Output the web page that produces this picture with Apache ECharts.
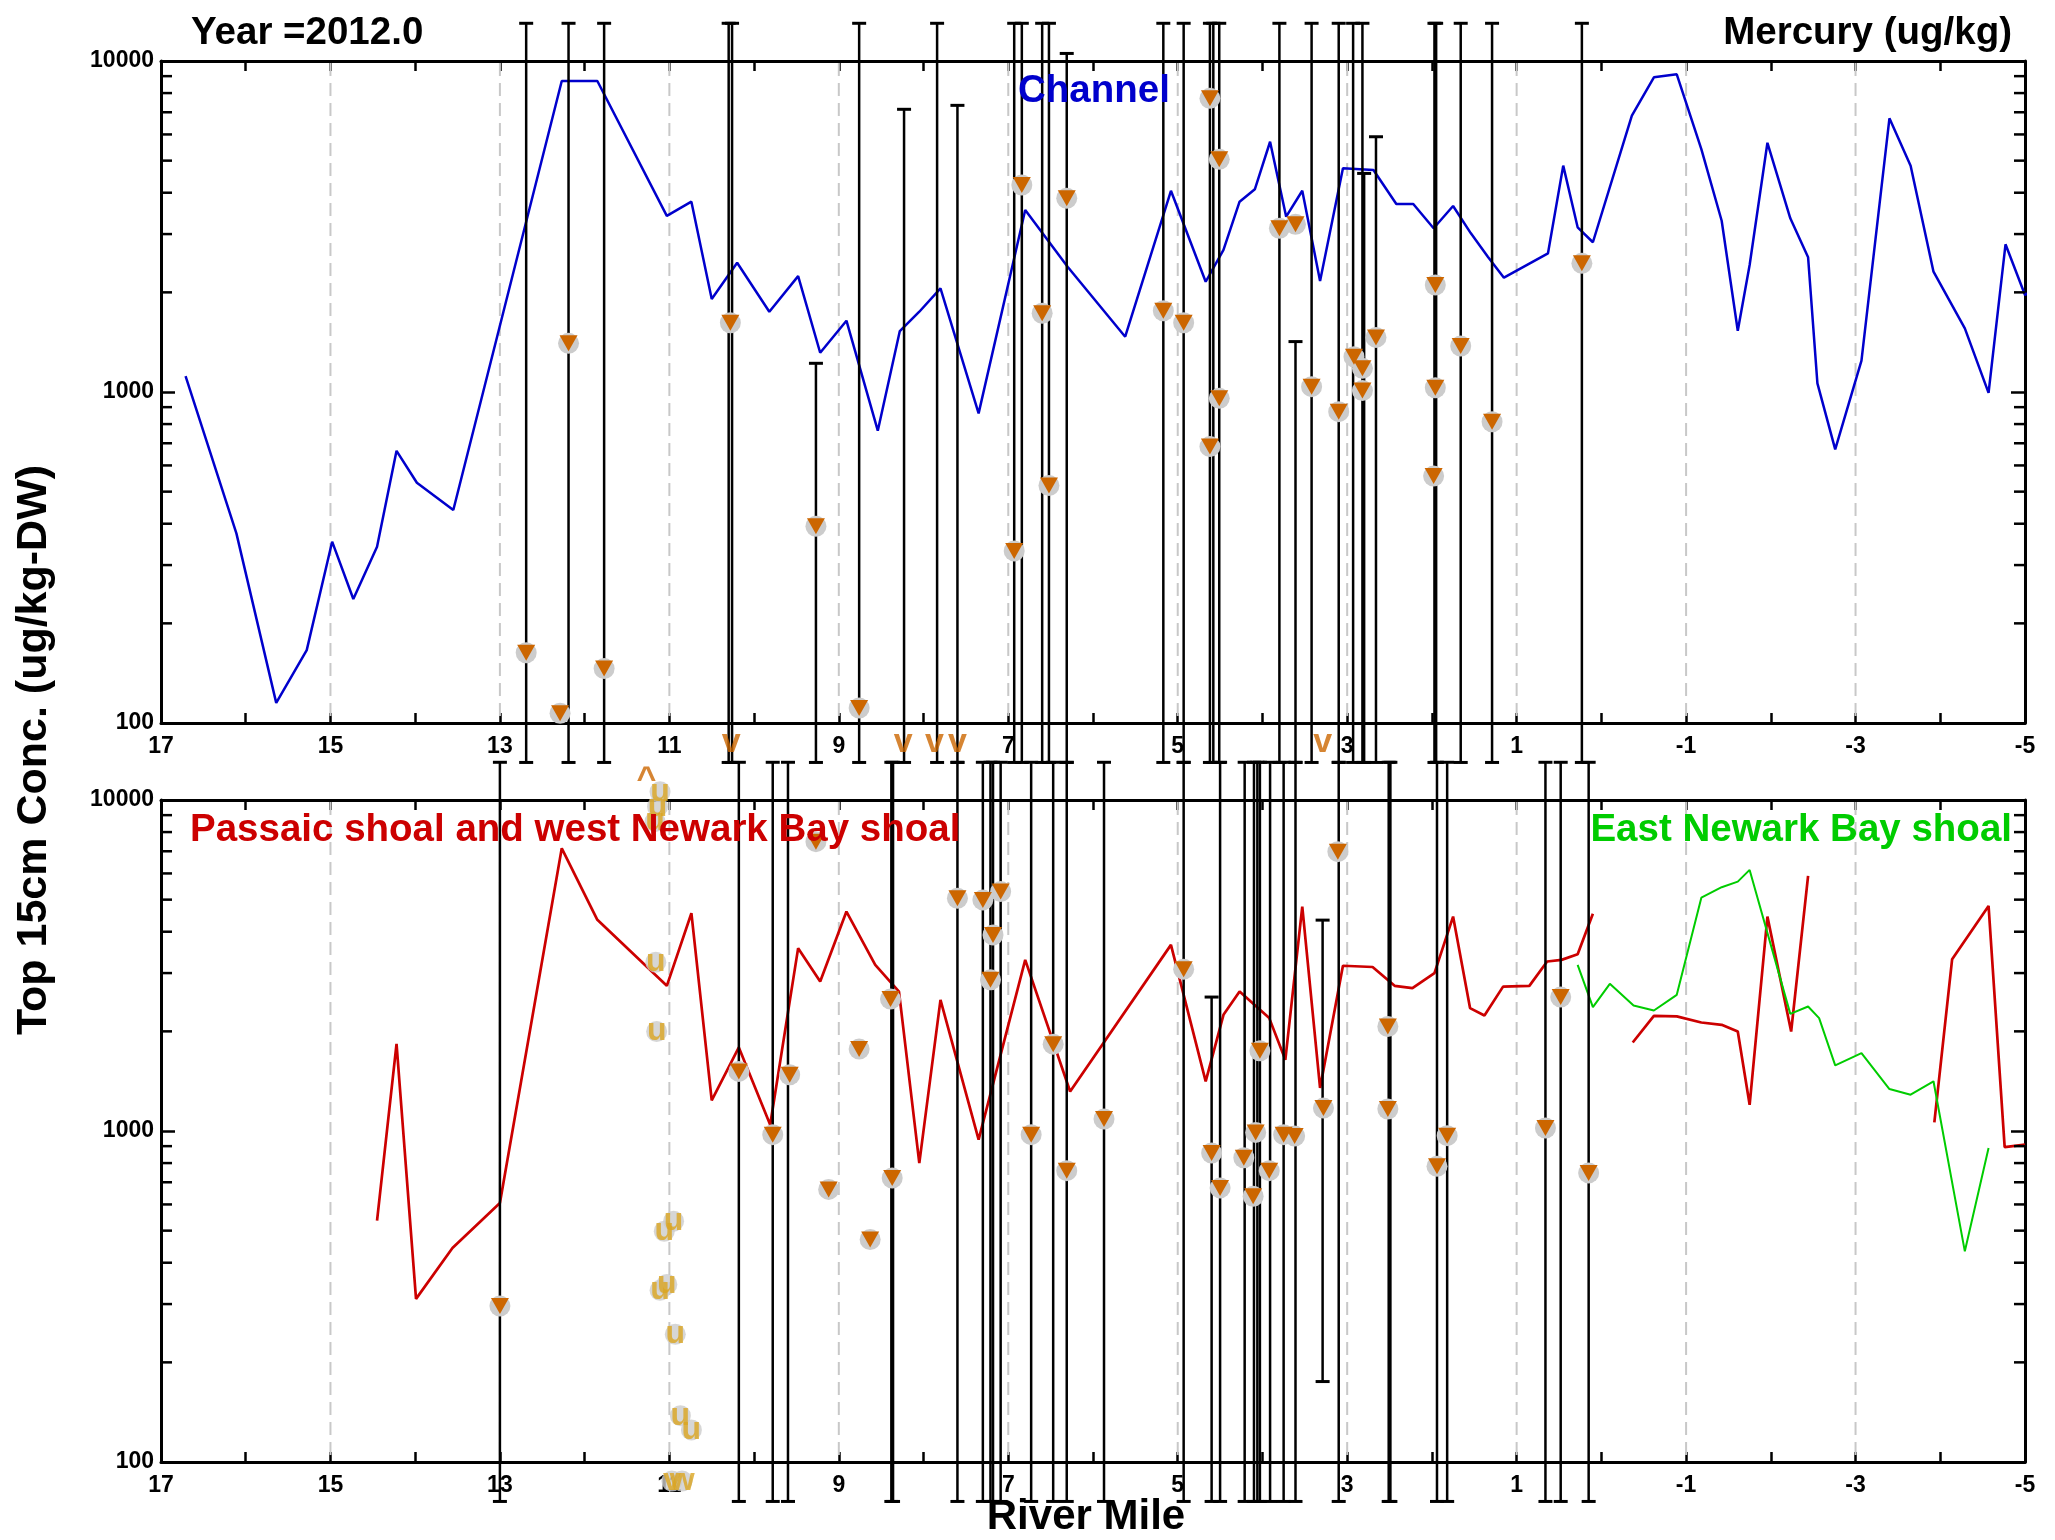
<!DOCTYPE html>
<html><head><meta charset="utf-8">
<script src="https://cdn.jsdelivr.net/npm/echarts@6/dist/echarts.min.js"></script>
<style>html,body{margin:0;padding:0;background:#fff}#c{width:2055px;height:1540px}</style>
</head><body><div id="c"></div>
<script>
// ---------- DATA ----------
const xLabelValues = [17,15,13,11,9,7,5,3,1,-1,-3,-5];
const gridRM = [15,13,11,9,7,5,3,1,-1,-3];
const yTickLabels = [100,1000,10000];
const minorDecades = [100,1000];
const minorMults = [2,3,4,5,6,7,8,9];

// Channel (top, blue)
const blueRM  = [16.71,16.11,15.64,15.28,14.98,14.73,14.45,14.22,13.98,13.55,12.27,11.85,11.03,10.74,10.50,10.20,9.82,9.48,9.22,8.91,8.54,8.28,8.05,7.80,7.35,6.80,6.30,5.62,5.08,4.67,4.46,4.27,4.09,3.91,3.72,3.53,3.32,3.05,2.69,2.42,2.22,1.98,1.75,1.54,1.34,1.15,0.63,0.45,0.28,0.10,-0.36,-0.62,-0.89,-1.18,-1.42,-1.61,-1.75,-1.96,-2.23,-2.44,-2.55,-2.76,-3.07,-3.40,-3.65,-3.92,-4.29,-4.57,-4.77,-5.00,-5.16];
const blueVal = [1117,374,115,166,353,237,341,664,532,440,8700,8700,3404,3758,1910,2458,1748,2239,1314,1642,764,1528,1748,2056,862,3548,2391,1469,4055,2153,2686,3758,4097,5702,3385,4055,2163,4742,4686,3698,3698,3124,3648,3016,2563,2215,2624,4829,3145,2834,6834,8928,9117,5420,3292,1531,2419,5661,3347,2552,1062,671,1243,6714,4829,2309,1557,994,2794,1963,2090];

// Passaic shoal and west Newark Bay shoal (bottom, red) - null = gap
const redRM  = [14.45,14.22,13.99,13.56,13.00,12.27,11.85,11.03,10.74,10.50,10.18,9.81,9.48,9.22,8.91,8.57,8.29,8.05,7.80,7.35,6.80,6.27,5.08,4.67,4.46,4.27,3.92,3.73,3.53,3.32,3.05,2.70,2.44,2.23,1.97,1.75,1.55,1.38,1.16,0.85,0.64,0.47,0.28,0.10,null,-0.37,-0.62,-0.89,-1.18,-1.42,-1.61,-1.75,-1.96,-2.24,-2.44,null,-3.93,-4.14,-4.57,-4.76,-5.00];
const redVal = [536,1834,311,443,606,7145,4345,2745,4550,1237,1788,1045,3568,2829,4603,3177,2638,800,2491,942,3289,1316,3650,1413,2244,2638,2193,1641,4766,1349,3157,3130,2745,2701,2999,4443,2351,2234,2730,2745,3251,3289,3421,4530,null,1851,2228,2220,2127,2093,1998,1200,4443,1998,5897,null,1062,3304,4786,894,909];

// East Newark Bay shoal (bottom, green)
const greenRM  = [0.28,0.10,-0.10,-0.38,-0.62,-0.89,-1.18,-1.42,-1.61,-1.75,-2.23,-2.44,-2.57,-2.76,-3.07,-3.40,-3.65,-3.92,-4.29,-4.57];
const greenVal = [3177,2367,2784,2393,2312,2578,5070,5452,5668,6149,2259,2377,2193,1579,1719,1339,1287,1413,433,889];

// Sample points (triangle markers)
const topMarkRM  = [12.69,12.29,12.19,11.77,10.28,9.27,8.76,6.84,6.93,6.60,6.52,6.31,5.17,4.93,4.62,4.51,4.62,4.51,3.80,3.61,3.42,3.10,2.92,2.82,2.82,2.66,1.96,1.96,1.98,1.66,1.29,0.23];
const topMarkVal = [163,107,1403,146,1619,393,111,4221,331,1729,522,3848,1760,1619,7713,5046,684,957,3124,3211,1038,872,1278,1179,1010,1462,2105,1030,557,1377,813,2448];
const botMarkRM  = [13.00,9.27,7.60,7.30,7.09,7.18,7.21,4.93,3.11,8.39,10.18,9.58,9.78,8.76,6.47,6.73,5.87,4.03,3.28,4.60,4.22,4.08,3.75,3.62,4.50,4.11,3.92,6.31,8.37,9.12,8.63,2.52,2.52,0.48,1.82,0.66,1.94,0.15];
const botMarkVal = [296,7482,5050,4990,5287,3913,2862,3083,6982,2503,1514,1479,975,1768,1830,975,1087,1747,1173,858,830,990,975,965,673,635,759,759,721,666,470,2069,1165,2539,968,1021,782,747];

// Range bars (low / high)
const topBarRM = [12.69,12.19,11.77,10.30,10.26,9.27,8.76,8.23,7.84,7.60,6.93,6.84,6.60,6.52,6.31,5.17,4.93,4.62,4.58,4.51,3.80,3.61,3.42,3.10,2.93,2.82,2.80,2.66,1.97,1.95,1.66,1.29,0.23];
const topBarLo = [76,76,76,76,76,76,76,76,76,76,76,76,76,76,76,76,76,76,76,76,76,76,76,76,76,76,76,76,76,76,76,76,76];
const topBarHi = [13000,13000,13000,13000,13000,1221,13000,7146,13000,7345,13000,13000,13000,13000,10540,13000,13000,13000,13000,13000,13000,1420,13000,13000,13000,13000,4575,5904,13000,13000,13000,13000,13000];
const botBarRM = [13.00,10.18,9.78,9.60,8.38,8.36,7.60,7.30,7.21,7.18,7.09,6.73,6.47,6.31,5.87,4.93,4.60,4.50,4.21,4.10,4.06,4.03,3.91,3.75,3.61,3.29,3.10,2.51,2.49,1.94,1.82,0.66,0.48,0.15];
const botBarLo = [76,76,76,76,76,76,76,76,76,76,76,76,76,76,76,76,76,76,76,76,76,76,76,76,76,175,76,76,76,76,76,76,76,76];
const botBarHi = [13000,13000,13000,13000,13000,13000,13000,13000,13000,13000,13000,13000,13000,13000,13000,13000,2539,13000,13000,13000,13000,13000,13000,13000,13000,4336,13000,13000,13000,13000,13000,13000,13000,13000];

// Out-of-range letters (orange)
const topLetterRM = [10.27,8.24,7.87,7.60,3.29];
const topLetterVal = [87,87,87,87,87];
const topLetterChar = ['v','v','v','v','v'];
const botLetterRM = [11.27];
const botLetterVal = [11490];
const botLetterChar = ['^'];

// Gold 'u' flagged samples (bottom)
const goldRM   = [11.11,11.14,11.17,11.16,11.15,10.95,11.06,11.03,11.11,10.93,10.87,10.74,10.97,10.85];
const goldVal  = [10593,9545,8602,3236,1998,534,498,344,330,243,138,125,87.6,87.6];
const goldChar = ['u','u','u','u','u','u','u','u','u','u','u','u','v','w'];

// ---------- CHART ----------
const FONT = '"Liberation Sans", Arial, sans-serif';
const chart = echarts.init(document.getElementById('c'), null, {renderer:'canvas'});
const minorVals = [];
minorDecades.forEach(d => minorMults.forEach(m => minorVals.push(d*m)));

const G = [{left:161, top:61, width:1864, height:662},{left:161, top:800, width:1864, height:662}];

function xAx(gi, pos, showLabel){
  return {type:'value', gridIndex:gi, position:pos, min:-5, max:17, interval:1, inverse:true,
    axisLine:{show:true, onZero:false, lineStyle:{color:'#000', width:3}},
    axisTick:{show:true, inside:true, length:10, lineStyle:{color:'#000', width:2.5}},
    axisLabel:{show:showLabel, margin:12, fontSize:23, fontWeight:'bold', color:'#000', fontFamily:FONT,
      formatter: v => xLabelValues.indexOf(Math.round(v)) >= 0 ? String(Math.round(v)) : ''},
    splitLine:{show:false}};
}
function yAx(gi, pos, showLabel){
  return {type:'log', logBase:10, gridIndex:gi, position:pos, min:100, max:10000,
    axisLine:{show:true, onZero:false, lineStyle:{color:'#000', width:3}},
    axisTick:{show:true, inside:true, length:14, lineStyle:{color:'#000', width:2.5}},
    axisLabel:{show:showLabel, margin:7, fontSize:23, fontWeight:'bold', color:'#000', fontFamily:FONT,
      padding:[0,0,14,0],
      formatter: v => { const r = Math.round(v); return yTickLabels.indexOf(r) >= 0 ? String(r) : ''; }},
    splitLine:{show:false}};
}

function gridLineSeries(xi, yi){
  return {type:'custom', xAxisIndex:xi, yAxisIndex:yi, silent:true, z:1,
    data: gridRM.map(v => [v, 1000]),
    renderItem(params, api){
      const cs = params.coordSys;
      const p = api.coord([api.value(0), 1000]);
      return {type:'line', shape:{x1:p[0], y1:cs.y+2, x2:p[0], y2:cs.y+cs.height-2},
        style:{stroke:'#c8c8c8', lineWidth:2, lineDash:[13,7]}};
    }};
}
function minorTickSeries(xi, yi){
  return {type:'custom', xAxisIndex:xi, yAxisIndex:yi, silent:true, z:4,
    data: minorVals.map(v => [5, v]),
    renderItem(params, api){
      const cs = params.coordSys;
      const y = api.coord([5, api.value(1)])[1];
      return {type:'group', children:[
        {type:'line', shape:{x1:cs.x, y1:y, x2:cs.x+11, y2:y}, style:{stroke:'#000', lineWidth:2.5}},
        {type:'line', shape:{x1:cs.x+cs.width-11, y1:y, x2:cs.x+cs.width, y2:y}, style:{stroke:'#000', lineWidth:2.5}}
      ]};
    }};
}
function barSeries(xi, yi, rm, lo, hi){
  return {type:'custom', xAxisIndex:xi, yAxisIndex:yi, silent:true, z:3, clip:false,
    data: rm.map((r,i) => [r, lo[i], hi[i]]),
    encode:{x:0, y:[1,2]},
    renderItem(params, api){
      const x = api.value(0);
      const a = api.coord([x, api.value(1)]);
      const b = api.coord([x, api.value(2)]);
      const w = 7;
      return {type:'group', children:[
        {type:'line', shape:{x1:a[0], y1:a[1], x2:b[0], y2:b[1]}, style:{stroke:'#000', lineWidth:2.5}},
        {type:'line', shape:{x1:a[0]-w, y1:a[1], x2:a[0]+w, y2:a[1]}, style:{stroke:'#000', lineWidth:3}},
        {type:'line', shape:{x1:b[0]-w, y1:b[1], x2:b[0]+w, y2:b[1]}, style:{stroke:'#000', lineWidth:3}}
      ]};
    }};
}
function lineSeries(xi, yi, rm, val, color, width, clip){
  return {type:'line', xAxisIndex:xi, yAxisIndex:yi, z:2, clip:clip, symbol:'none', connectNulls:false,
    data: rm.map((r,i) => r === null ? ['-','-'] : [r, val[i]]),
    lineStyle:{color:color, width:width}, silent:true};
}
function markerSeries(xi, yi, rm, val){
  const d = rm.map((r,i) => [r, val[i]]);
  return [
    {type:'scatter', xAxisIndex:xi, yAxisIndex:yi, z:5, clip:false, silent:true, data:d,
      symbol:'circle', symbolSize:21, itemStyle:{color:'#cccccc', opacity:1}},
    {type:'scatter', xAxisIndex:xi, yAxisIndex:yi, z:6, clip:false, silent:true, data:d,
      symbol:'triangle', symbolRotate:180, symbolSize:[18,16], itemStyle:{color:'#cc6600', opacity:1}}
  ];
}
function letterSeries(xi, yi, rm, val, chars, color, withCircle, fs){
  const d = rm.map((r,i) => [r, val[i]]);
  const out = [];
  if (withCircle) out.push({type:'scatter', xAxisIndex:xi, yAxisIndex:yi, z:7, clip:false, silent:true, data:d,
    symbol:'circle', symbolSize:21, itemStyle:{color:'#cccccc'}});
  out.push({type:'scatter', xAxisIndex:xi, yAxisIndex:yi, z:8, clip:false, silent:true, data:d,
    symbol:'circle', symbolSize:1, itemStyle:{color:'rgba(0,0,0,0)'},
    label:{show:true, position:'inside', formatter: p => chars[p.dataIndex],
      fontSize:fs, fontWeight:'bold', color:color, fontFamily:FONT}});
  return out;
}

const series = [].concat(
  gridLineSeries(0,0), gridLineSeries(2,2),
  minorTickSeries(0,0), minorTickSeries(2,2),
  lineSeries(0,0, blueRM, blueVal, '#0000cc', 2.5, false),
  lineSeries(2,2, redRM, redVal, '#cc0000', 2.7, true),
  lineSeries(2,2, greenRM, greenVal, '#00cc00', 2, true),
  barSeries(0,0, topBarRM, topBarLo, topBarHi),
  barSeries(2,2, botBarRM, botBarLo, botBarHi),
  markerSeries(0,0, topMarkRM, topMarkVal),
  markerSeries(2,2, botMarkRM, botMarkVal),
  letterSeries(0,0, topLetterRM, topLetterVal, topLetterChar, '#cc6600', false, 34),
  letterSeries(2,2, botLetterRM, botLetterVal, botLetterChar, '#cc6600', false, 34),
  letterSeries(2,2, goldRM, goldVal, goldChar, '#dba520', true, 32)
);

function txt(x, y, text, size, color, align, rot){
  return {type:'text', x:x, y:y, rotation: rot || 0, z:100, silent:true,
    style:{text:text, font:'bold '+size+'px '+FONT, fill:color,
      align:align, verticalAlign:'middle', textAlign:align, textVerticalAlign:'middle'}};
}

chart.setOption({
  animation:false,
  backgroundColor:'#fff',
  grid: G,
  xAxis: [xAx(0,'bottom',true), xAx(0,'top',false), xAx(1,'bottom',true), xAx(1,'top',false)],
  yAxis: [yAx(0,'left',true), yAx(0,'right',false), yAx(1,'left',true), yAx(1,'right',false)],
  series: series,
  graphic: [
    txt(191, 33, 'Year =2012.0', 38.5, '#000', 'left'),
    txt(2012, 33, 'Mercury (ug/kg)', 38.5, '#000', 'right'),
    txt(1018, 91, 'Channel', 38.5, '#0000cc', 'left'),
    txt(190, 830, 'Passaic shoal and west Newark Bay shoal', 38.5, '#cc0000', 'left'),
    txt(2012, 830, 'East Newark Bay shoal', 38.5, '#00cc00', 'right'),
    txt(34, 750, 'Top 15cm Conc. (ug/kg-DW)', 43, '#000', 'center', Math.PI/2),
    txt(1086, 1517, 'River Mile', 42, '#000', 'center')
  ]
});
</script></body></html>
